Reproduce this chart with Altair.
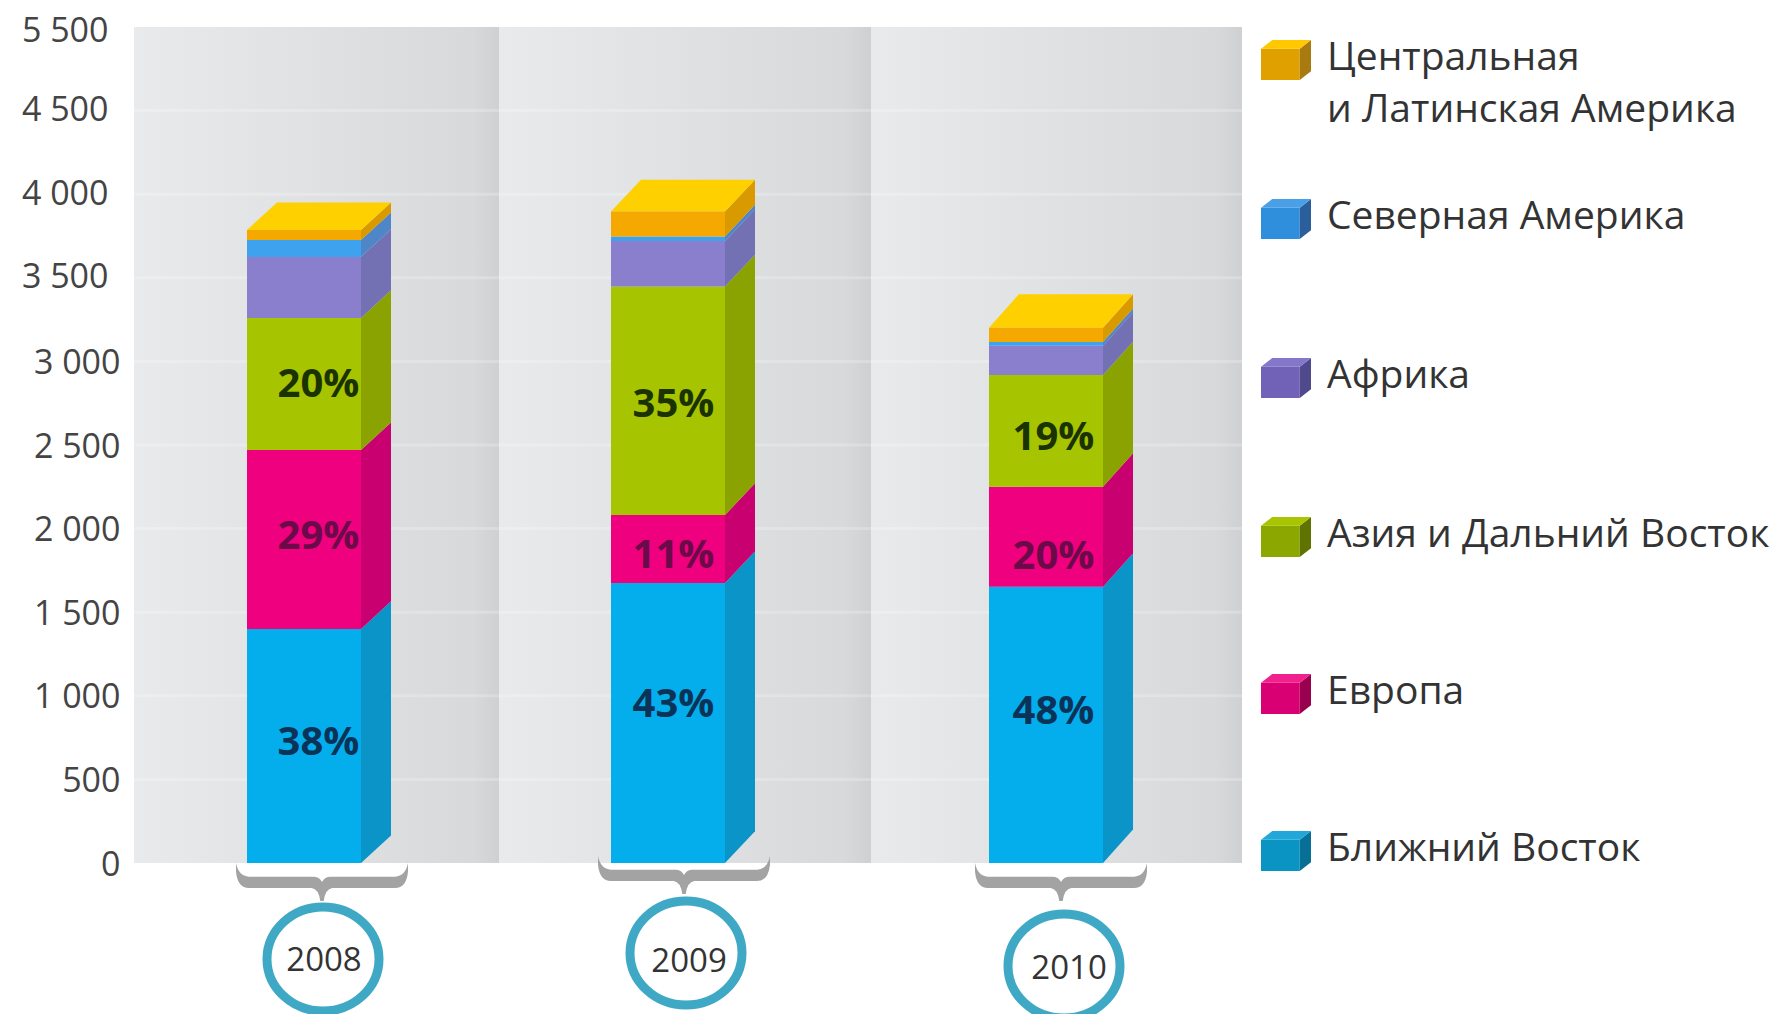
import altair as alt
import pandas as pd

years = ["2008", "2009", "2010"]
series = ["Ближний Восток", "Европа", "Азия и Дальний Восток", "Африка",
          "Северная Америка", "Центральная и Латинская Америка"]
# cumulative upper edge of every segment
tops_2008 = [1400, 2470, 3260, 3625, 3726, 3786]
tops_2009 = [1675, 2081, 3448, 3720, 3747, 3897]
tops_2010 = [1652, 2251, 2918, 3094, 3116, 3202]
tops = [tops_2008, tops_2009, tops_2010]
pct_labels = [
    ["38%", "29%", "20%"],
    ["43%", "11%", "35%"],
    ["48%", "20%", "19%"],
]
pct_levels = [
    [720, 1949, 2858],
    [946, 1837, 2737],
    [901, 1829, 2543],
]
tick_values_upper = [3500, 4000, 4500, 5000]
tick_values_lower = [0, 500, 1000, 1500, 2000, 2500, 3000]
legend_lines = [
    ["Центральная", "и Латинская Америка"],
    ["Северная Америка"],
    ["Африка"],
    ["Азия и Дальний Восток"],
    ["Европа"],
    ["Ближний Восток"],
]

front_colors = ["#04aeec", "#ee007f", "#a6c400", "#8a7fcc", "#3ea2ee", "#f5a800"]
side_colors = ["#0a94c8", "#c9006f", "#8ba300", "#7470b4", "#4f86c8", "#d99a00"]
top_color = "#ffd000"
label_colors = ["#0b3358", "#6b0a48", "#1b3300"]
legend_colors = ["#e0a000", "#2f8fdc", "#7162b8", "#8ca800", "#d90073", "#0a94c4"]
legend_dark = ["#a87a10", "#2a5f9c", "#4f4a8c", "#5f7300", "#99004f", "#086f96"]
legend_top = ["#ffc800", "#4aa0e8", "#8476c8", "#a9c400", "#f0208c", "#22a8d8"]

W, H = 1108, 836
ux = 369.33  # pixels per x unit
panel_edges = [0, 365 / ux, 737 / ux, 3]
bar_left = [113 / ux, 477 / ux, 855 / ux]
bar_w = 114 / ux
depth_x = 30 / ux
depth_y = [165, 190, 200]
pct_shift = [14.5 / ux, 5.5 / ux, 7.5 / ux]
text_font = "Open Sans"

x_scale = alt.Scale(domain=[0, 3], nice=False, zero=False)
y_scale = alt.Scale(domain=[0, 5000], nice=False, zero=False)
X = alt.X("x:Q", scale=x_scale, axis=None)
Y_none = alt.Y("y:Q", scale=y_scale, axis=None)

# background panels
panel_df = pd.DataFrame({"x": panel_edges[:-1], "x2": panel_edges[1:], "y": [0] * 3, "y2": [5000] * 3})
panels = alt.Chart(panel_df).mark_rect(
    color=alt.Gradient(gradient="linear", x1=0, x2=1, y1=0, y2=0,
                       stops=[alt.GradientStop(offset=0, color="#e9eaeb"),
                              alt.GradientStop(offset=0.93, color="#d8d9db"),
                              alt.GradientStop(offset=1, color="#cfd0d2")])
).encode(x=X, x2="x2:Q", y=Y_none, y2="y2:Q")

# value axes: upper labels sit further left than lower ones, as in the source
fmt = "replace(format(datum.value, ','), ',', ' ')"
upper_expr = "datum.value == 5000 ? '5 500' : " + fmt
axis_style = dict(domain=False, ticks=False, grid=False, title=None, labelFont=text_font,
                  labelFontSize=34, labelColor="#444444", orient="left")
axis_upper = alt.Chart(pd.DataFrame({"y": [0]})).mark_point(opacity=0).encode(
    y=alt.Y("y:Q", scale=y_scale,
            axis=alt.Axis(values=tick_values_upper, labelExpr=upper_expr, labelPadding=26,
                          labelOffset={"condition": {"test": "datum.value == 5000", "value": 4}, "value": 0},
                          **axis_style)))
axis_lower = alt.Chart(pd.DataFrame({"y": [0]})).mark_point(opacity=0).encode(
    y=alt.Y("y:Q", scale=y_scale,
            axis=alt.Axis(values=tick_values_lower, labelExpr=fmt, labelPadding=14, labelOffset=2, **axis_style)))

# gridlines
grid_df = pd.DataFrame({"y": tick_values_lower[1:] + tick_values_upper[:-1]})
grid = alt.Chart(grid_df).mark_rule(color="#ffffff", opacity=0.22, strokeWidth=3).encode(
    y=Y_none, x=alt.value(0), x2=alt.value(W))

# bars
front_rows, side_rows, top_rows = [], [], []
for i, year in enumerate(years):
    xl, xr = bar_left[i], bar_left[i] + bar_w
    lows = [0] + tops[i][:-1]
    dy = depth_y[i]
    for j, s in enumerate(series):
        lo, hi = lows[j], tops[i][j]
        front_rows.append({"x": xl, "x2": xr, "y": lo, "y2": hi, "s": s})
        key = f"{year}-{j}"
        side_rows.append({"x": xr, "y": lo, "y2": hi, "s": s, "k": key})
        side_rows.append({"x": xr + depth_x, "y": lo + dy, "y2": hi + dy, "s": s, "k": key})
    t = tops[i][-1]
    for px, y1, y2 in [(xl, t, t), (xl + depth_x, t, t + dy), (xr, t, t + dy), (xr + depth_x, t + dy, t + dy)]:
        top_rows.append({"x": px, "y": y1, "y2": y2, "k": year})

front = alt.Chart(pd.DataFrame(front_rows)).mark_rect().encode(
    x=X, x2="x2:Q", y=Y_none, y2="y2:Q",
    color=alt.Color("s:N", scale=alt.Scale(domain=series, range=front_colors), legend=None))
side = alt.Chart(pd.DataFrame(side_rows)).mark_area(orient="vertical").encode(
    x=X, y=Y_none, y2="y2:Q", detail="k:N",
    color=alt.Color("s:N", scale=alt.Scale(domain=series, range=side_colors), legend=None))
top = alt.Chart(pd.DataFrame(top_rows)).mark_area(orient="vertical", color=top_color).encode(
    x=X, y=Y_none, y2="y2:Q", detail="k:N")

# percentage labels
pct_rows = []
for i in range(3):
    for j in range(3):
        pct_rows.append({"x": bar_left[i] + bar_w / 2 + pct_shift[i], "y": pct_levels[i][j],
                         "t": pct_labels[i][j], "c": label_colors[j]})
pct = alt.Chart(pd.DataFrame(pct_rows)).mark_text(
    font=text_font, fontWeight="bold", fontSize=40, baseline="middle", align="center"
).encode(x=X, y=Y_none, text="t:N", color=alt.Color("c:N", scale=None))

# braces and year circles
brace_path = ("M-1,-0.22 Q-0.97,-0.07 -0.85,-0.06 L-0.1,-0.06 Q-0.03,-0.06 0,0 Q0.03,-0.06 0.1,-0.06 "
              "L0.85,-0.06 Q0.97,-0.07 1,-0.22 L1,-0.12 Q0.98,0.07 0.85,0.07 L0.12,0.07 Q0.04,0.08 0.02,0.22 "
              "L-0.02,0.22 Q-0.04,0.08 -0.12,0.07 L-0.85,0.07 Q-0.98,0.07 -1,-0.12 Z")
ellipse_path = "M-1,0 A1,0.93 0 1,0 1,0 A1,0.93 0 1,0 -1,0 Z"
ann_df = pd.DataFrame({
    "x": [188 / ux, 550 / ux, 927 / ux],
    "cx": [189 / ux, 552 / ux, 930 / ux],
    "tx": [190 / ux, 555 / ux, 935 / ux],
    "brace_y": [855, 848, 855],
    "circle_y": [932, 926, 939],
    "text_y": [934, 935, 942],
    "year": years,
})
brace = alt.Chart(ann_df).mark_point(shape=brace_path, filled=True, color="#a3a3a3", opacity=1, size=29584).encode(
    x=X, y=alt.Y("brace_y:Q", scale=None))
circle = alt.Chart(ann_df).mark_point(shape=ellipse_path, filled=False, color="#3fa9c5", opacity=1,
                                      strokeWidth=9, size=12544).encode(
    x=alt.X("cx:Q", scale=x_scale, axis=None), y=alt.Y("circle_y:Q", scale=None))
year_text = alt.Chart(ann_df).mark_text(font=text_font, fontSize=33, color="#333333", baseline="middle").encode(
    x=alt.X("tx:Q", scale=x_scale, axis=None), y=alt.Y("text_y:Q", scale=None), text="year:N")

# legend
legend_y = [31, 190, 349, 508, 665, 822]
cube_y = [33, 192, 351, 510, 667, 824]
leg_rows, txt_rows = [], []
for k, lines in enumerate(legend_lines):
    leg_rows.append({"px": 1152, "py": cube_y[k], "f": legend_colors[k], "d": legend_dark[k], "t": legend_top[k]})
    for n, line in enumerate(lines):
        txt_rows.append({"px": 1193, "py": legend_y[k] + n * 52, "t": line})
leg_df = pd.DataFrame(leg_rows)
faces = [
    ("M-1,-0.45 L0.55,-0.45 L0.55,0.8 L-1,0.8 Z", "f"),
    ("M0.55,-0.45 L1,-0.8 L1,0.45 L0.55,0.8 Z", "d"),
    ("M-1,-0.45 L-0.55,-0.8 L1,-0.8 L0.55,-0.45 Z", "t"),
]
PX = alt.X("px:Q", scale=None)
PY = alt.Y("py:Q", scale=None)
cubes = [
    alt.Chart(leg_df).mark_point(shape=path, filled=True, opacity=1, size=2500, strokeWidth=0).encode(
        x=PX, y=PY, fill=alt.Fill(f"{col}:N", scale=None))
    for path, col in faces
]
legend_text = alt.Chart(pd.DataFrame(txt_rows)).mark_text(
    font=text_font, fontSize=39, color="#333333", align="left", baseline="middle"
).encode(x=PX, y=PY, text="t:N")

chart = alt.layer(
    panels, axis_upper, axis_lower, grid, side, top, front, pct, brace, circle, year_text,
    *cubes, legend_text
).resolve_scale(color="independent", fill="independent").resolve_axis(y="independent").properties(
    width=W, height=H,
    autosize=alt.AutoSizeParams(type="none"),
    padding={"left": 126, "top": 19, "right": 533, "bottom": 151},
    background="#ffffff",
).configure_view(stroke=None)

chart.save("out.html", embed_options={"renderer": "svg", "actions": False})
